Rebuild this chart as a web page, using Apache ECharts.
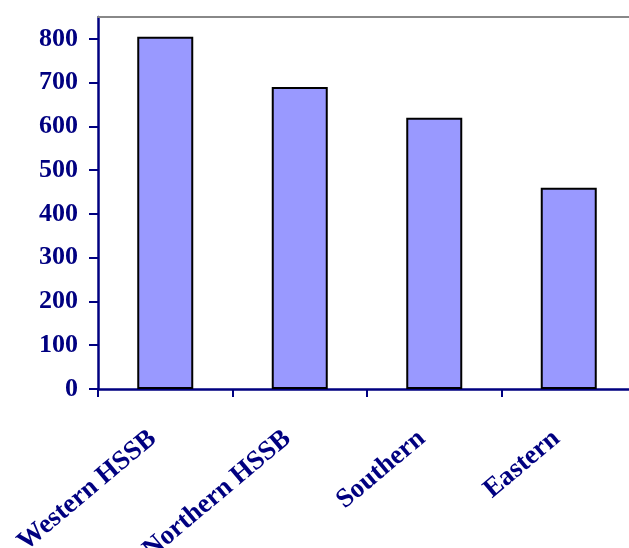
<!DOCTYPE html>
<html>
<head>
<meta charset="utf-8">
<script src="https://cdn.jsdelivr.net/npm/echarts@6/dist/echarts.min.js"></script>
<style>html,body{margin:0;padding:0;background:#fff;}#chart{width:629px;height:548px;}</style>
</head>
<body>
<div id="chart"></div>
<script>
const categories = ["Western HSSB", "Northern HSSB", "Southern", "Eastern"];
const values = [805, 690, 620, 460];
const yMin = 0, yMax = 850, yInterval = 100;

const navy = '#000080';
const font = '"Liberation Serif", "Times New Roman", serif';
const chart = echarts.init(document.getElementById('chart'));
chart.setOption({
  animation: false,
  backgroundColor: '#ffffff',
  grid: { left: 98, top: 17, right: -7, bottom: 159, containLabel: false, outerBoundsMode: 'none' },
  xAxis: [{
    type: 'category',
    data: categories,
    boundaryGap: true,
    axisLine: { lineStyle: { color: navy, width: 2.5 } },
    axisTick: { show: true, length: 8, lineStyle: { color: navy, width: 2 }, alignWithLabel: false },
    axisLabel: { rotate: 40, margin: 36, color: navy, fontFamily: font, fontWeight: 'bold', fontSize: 27, interval: 0,
      padding: [0, 16, 0, 0] }
  }, {
    type: 'category',
    position: 'top',
    data: categories,
    axisLine: { lineStyle: { color: '#888888', width: 2 } },
    axisTick: { show: false },
    axisLabel: { show: false }
  }],
  yAxis: {
    type: 'value',
    min: yMin, max: yMax, interval: yInterval,
    axisLine: { show: true, lineStyle: { color: navy, width: 2.5 } },
    axisTick: { show: true, length: 9, lineStyle: { color: navy, width: 2 } },
    splitLine: { show: false },
    axisLabel: { showMaxLabel: false, margin: 20, color: navy, fontFamily: font, fontWeight: 'bold', fontSize: 26 }
  },
  series: [{
    type: 'bar',
    data: values,
    barWidth: 56,
    itemStyle: { color: '#9999ff', borderColor: '#000000', borderWidth: 2 }
  }]
});
</script>
</body>
</html>
